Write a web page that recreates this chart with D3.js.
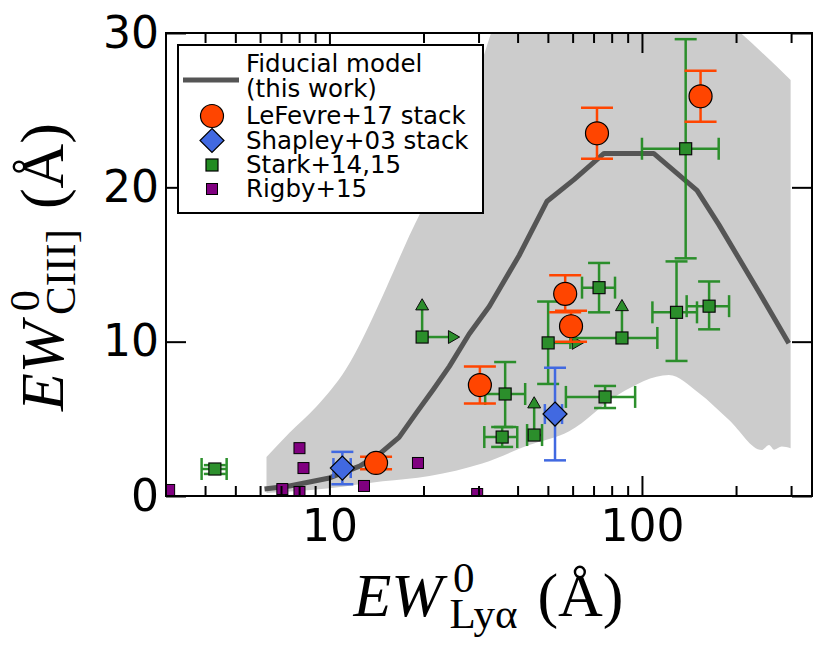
<!DOCTYPE html>
<html>
<head>
<meta charset="utf-8">
<style>
body { margin: 0; background: #fff; }
.tick text { font-family: "DejaVu Sans", sans-serif; font-size: 44px; fill: #000; }
.tick line { stroke: #000; stroke-width: 2; }
.leg { font-family: "DejaVu Sans", sans-serif; font-size: 24.5px; fill: #000; }
.lab { font-family: "Liberation Serif", "Times New Roman", serif; fill: #000; }
</style>
<script src="https://d3js.org/d3.v7.min.js"></script>
</head>
<body>
<svg id="fig" width="830" height="664"></svg>
<script>
// fiducial model curve
var modelX = [6.2, 7.45, 10, 12.5, 14.5, 16.7, 19.0, 21.5, 24.2, 28, 32.5, 40.5, 49.7, 60.6, 75.6, 109, 150, 176, 237, 295];
var modelY = [0.45, 0.65, 1.17, 1.94, 2.75, 3.8, 5.4, 6.9, 8.4, 10.5, 12.3, 15.6, 19.1, 20.5, 22.2, 22.2, 19.8, 17.6, 13.2, 9.9];

// shaded range around the model
var bandHiX = [6.29, 7.45, 9.09, 11.3, 14.8, 16.4, 18.0, 19.8, 23.3, 27.0, 30.1, 32.9, 40, 100, 207, 299];
var bandHiY = [2.53, 4.1, 5.8, 8.23, 12.96, 15.0, 16.85, 18.6, 22.0, 25.0, 27.6, 30.0, 35, 35, 30.0, 26.96];
var bandLoX = [6.29, 10, 14.8, 20.9, 30.8, 43.5, 58.5, 84.4, 122, 152, 190, 242, 255, 265, 280, 299];
var bandLoY = [0.19, 0.5, 0.95, 1.3, 2.1, 3.3, 4.2, 6.6, 7.84, 6.68, 4.93, 2.98, 3.3, 3.0, 3.2, 3.1];

// LeFevre+17 stacks
var lfX = [14.1, 30.3, 56.8, 59.3, 71.8, 154];
var lfY = [2.14, 7.19, 13.1, 11.0, 23.5, 25.9];
var lfYerr = [0.4, 1.2, 1.2, 1.0, 1.65, 1.65];

// Shapley+03 stacks
var shX = [11.0, 52.7];
var shY = [1.81, 5.31];
var shXlo = [10.3, 48.9];
var shXhi = [11.7, 55.5];
var shYerr = [1.05, 3.0];

// Stark+14,15 (null = no bar; upTo / rightTo = limit arrows)
var stX     = [4.30, 35.7, 45.2, 36.5, 50.1, 86.3, 72.9, 129, 164, 76.2, 138, 19.8];
var stY     = [1.75, 3.82, 3.95, 6.61, 9.92, 10.24, 13.5, 11.9, 12.3, 6.42, 22.5, 10.3];
var stXlo   = [3.90, 31.3, 42.9, 31.5, null, 59, 64.3, 108, 139, 57.1, 100, null];
var stXhi   = [4.69, 39.9, 47.9, 42.3, null, 112, 82.0, 150, 190, 95.1, 176, null];
var stYlo   = [1.43, 3.18, null, 4.47, 7.26, null, 11.9, 8.75, 10.8, 5.70, 15.4, null];
var stYhi   = [2.00, 4.47, null, 8.68, 12.6, null, 15.1, 15.2, 13.9, 7.13, 29.6, null];
var stUpTo    = [null, null, 5.95, null, null, 12.25, null, null, null, null, null, 12.3];
var stRightTo = [null, null, null, null, 61.5, null, null, null, null, null, null, 24.7];

// Rigby+15
var rgX = [3.07, 7.07, 8.02, 8.02, 8.26, 12.9, 19.2, 29.7];
var rgY = [0.39, 0.45, 0.26, 3.1, 1.81, 0.65, 2.14, 0.13];

var xMajor = [10, 100];
var xMinor = [4, 5, 6, 7, 8, 9, 20, 30, 40, 50, 60, 70, 80, 90, 200, 300];
var yMajor = [0, 10, 20, 30];

var legendLabels = ["LeFevre+17 stack", "Shapley+03 stack", "Stark+14,15", "Rigby+15"];

var ORANGE = "#ff4500", BLUE = "#4169e1", GREEN = "#228b22", PURPLE = "#800080";

var svg = d3.select("#fig");
var L = 166, R = 812, T = 33, B = 496;
var x = d3.scaleLog().domain([3, 350]).range([L, R]);
var y = d3.scaleLinear().domain([0, 30]).range([B, T]);

svg.append("defs").append("clipPath").attr("id", "plotclip")
    .append("rect").attr("x", L).attr("y", T).attr("width", R - L).attr("height", B - T);

var plot = svg.append("g").attr("clip-path", "url(#plotclip)");

// band: smooth upper edge, then lower edge walked back
var smooth = d3.line().curve(d3.curveMonotoneX)
    .x(function(d) { return x(d[0]); }).y(function(d) { return y(d[1]); });
var hiPts = bandHiX.map(function(v, i) { return [v, bandHiY[i]]; });
var loPts = bandLoX.map(function(v, i) { return [v, bandLoY[i]]; }).reverse();
plot.append("path")
    .attr("d", smooth(hiPts) + "L" + smooth(loPts).slice(1) + "Z")
    .attr("fill", "#cccccc");

// model line
plot.append("path")
    .attr("d", d3.line()
        .x(function(d) { return x(d); }).y(function(d, i) { return y(modelY[i]); })(modelX))
    .attr("fill", "none").attr("stroke", "#555").attr("stroke-width", 5)
    .attr("stroke-linejoin", "round");

function seg(g, x1, y1, x2, y2, color, lw) {
    g.append("line").attr("x1", x1).attr("y1", y1).attr("x2", x2).attr("y2", y2)
        .attr("stroke", color).attr("stroke-width", lw);
}
function xbar(g, xlo, xhi, yv, cap, color) {
    seg(g, x(xlo), y(yv), x(xhi), y(yv), color, 2.5);
    seg(g, x(xlo), y(yv) - cap, x(xlo), y(yv) + cap, color, 2.5);
    seg(g, x(xhi), y(yv) - cap, x(xhi), y(yv) + cap, color, 2.5);
}
function ybar(g, xv, ylo, yhi, cap, color) {
    seg(g, x(xv), y(ylo), x(xv), y(yhi), color, 2.5);
    seg(g, x(xv) - cap, y(ylo), x(xv) + cap, y(ylo), color, 2.5);
    seg(g, x(xv) - cap, y(yhi), x(xv) + cap, y(yhi), color, 2.5);
}
var tri = d3.symbol().type(d3.symbolTriangle).size(72);

// Rigby
plot.append("g").selectAll("rect").data(rgX).join("rect")
    .attr("x", function(d) { return x(d) - 5.5; })
    .attr("y", function(d, i) { return y(rgY[i]) - 5.5; })
    .attr("width", 11).attr("height", 11)
    .attr("fill", PURPLE).attr("stroke", "#000").attr("stroke-width", 1);

// Stark
var gs = plot.append("g").attr("opacity", 0.95);
stX.forEach(function(xv, i) {
    var yv = stY[i];
    if (stXlo[i] != null) xbar(gs, stXlo[i], stXhi[i], yv, 11, GREEN);
    if (stYlo[i] != null) ybar(gs, xv, stYlo[i], stYhi[i], 11, GREEN);
    if (stUpTo[i] != null) {
        seg(gs, x(xv), y(yv), x(xv), y(stUpTo[i]), GREEN, 2.5);
        gs.append("path").attr("d", tri)
            .attr("transform", "translate(" + x(xv) + "," + y(stUpTo[i]) + ")")
            .attr("fill", GREEN).attr("stroke", "#000").attr("stroke-width", 1);
    }
    if (stRightTo[i] != null) {
        seg(gs, x(xv), y(yv), x(stRightTo[i]), y(yv), GREEN, 2.5);
        gs.append("path").attr("d", tri)
            .attr("transform", "translate(" + x(stRightTo[i]) + "," + y(yv) + ") rotate(90)")
            .attr("fill", GREEN).attr("stroke", "#000").attr("stroke-width", 1);
    }
    gs.append("rect").attr("x", x(xv) - 6).attr("y", y(yv) - 6)
        .attr("width", 12).attr("height", 12)
        .attr("fill", GREEN).attr("stroke", "#000").attr("stroke-width", 1.2);
});

// Shapley
var diamond = function(r) { return "M0," + (-r) + "L" + r + ",0L0," + r + "L" + (-r) + ",0Z"; };
var gb = plot.append("g");
shX.forEach(function(xv, i) {
    xbar(gb, shXlo[i], shXhi[i], shY[i], 10, BLUE);
    ybar(gb, xv, shY[i] - shYerr[i], shY[i] + shYerr[i], 11, BLUE);
    gb.append("path").attr("d", diamond(12))
        .attr("transform", "translate(" + x(xv) + "," + y(shY[i]) + ")")
        .attr("fill", BLUE).attr("stroke", "#000").attr("stroke-width", 1.2);
});

// LeFevre
var go = plot.append("g");
lfX.forEach(function(xv, i) {
    ybar(go, xv, lfY[i] - lfYerr[i], lfY[i] + lfYerr[i], 16, ORANGE);
    go.append("circle").attr("cx", x(xv)).attr("cy", y(lfY[i])).attr("r", 11.5)
        .attr("fill", ORANGE).attr("stroke", "#000").attr("stroke-width", 1.2);
});

// axes, ticks inside on all four sides
function noDomain(g) { g.select(".domain").remove(); }
svg.append("g").attr("transform", "translate(0," + B + ")")
    .call(d3.axisBottom(x).tickValues(xMajor).tickFormat(d3.format("d")).tickSizeInner(-20).tickSizeOuter(0).tickPadding(14))
    .call(noDomain);
svg.append("g").attr("transform", "translate(0," + B + ")")
    .call(d3.axisBottom(x).tickValues(xMinor).tickFormat("").tickSizeInner(-10).tickSizeOuter(0))
    .call(noDomain);
svg.append("g").attr("transform", "translate(0," + T + ")")
    .call(d3.axisTop(x).tickValues(xMajor).tickFormat("").tickSizeInner(-20).tickSizeOuter(0))
    .call(noDomain);
svg.append("g").attr("transform", "translate(0," + T + ")")
    .call(d3.axisTop(x).tickValues(xMinor).tickFormat("").tickSizeInner(-10).tickSizeOuter(0))
    .call(noDomain);
svg.append("g").attr("transform", "translate(" + L + ",0)")
    .call(d3.axisLeft(y).tickValues(yMajor).tickFormat(d3.format("d")).tickSizeInner(-20).tickSizeOuter(0).tickPadding(7))
    .call(noDomain);
svg.append("g").attr("transform", "translate(" + R + ",0)")
    .call(d3.axisRight(y).tickValues(yMajor).tickFormat("").tickSizeInner(-20).tickSizeOuter(0))
    .call(noDomain);
svg.append("rect").attr("x", L).attr("y", T).attr("width", R - L).attr("height", B - T)
    .attr("fill", "none").attr("stroke", "#000").attr("stroke-width", 2);

// axis labels: EW^0_sub (Å)
function mathLabel(g, sub) {
    var t = g.append("text").attr("class", "lab").attr("x", 0).attr("y", 0);
    t.append("tspan").attr("font-style", "italic").attr("font-size", 62).text("EW");
    t.append("tspan").attr("font-size", 43).attr("dx", 10).attr("dy", -24).text("0");
    t.append("tspan").attr("font-size", 43).attr("dx", -25).attr("dy", 36).text(sub);
    t.append("tspan").attr("font-size", 62).attr("dx", 20).attr("dy", -12).text("(Å)");
    var w = t.node().getBBox().width;
    t.attr("x", -w / 2);
    return t;
}
var xl = svg.append("g").attr("transform", "translate(" + ((L + R) / 2) + ",616)");
mathLabel(xl, "Lyα");
var yl = svg.append("g").attr("transform", "translate(63," + ((T + B) / 2 + 2) + ") rotate(-90)");
mathLabel(yl, "CIII]");

// legend
var lg = svg.append("g");
lg.append("rect").attr("x", 178).attr("y", 45).attr("width", 305).attr("height", 168)
    .attr("fill", "#fff").attr("stroke", "#000").attr("stroke-width", 2);
lg.append("line").attr("x1", 183).attr("x2", 239).attr("y1", 80).attr("y2", 80)
    .attr("stroke", "#555").attr("stroke-width", 5);
lg.append("text").attr("class", "leg").attr("x", 246).attr("y", 72).text("Fiducial model");
lg.append("text").attr("class", "leg").attr("x", 246).attr("y", 97).text("(this work)");
var legY = [124, 148.5, 173, 197];
legendLabels.forEach(function(s, i) {
    lg.append("text").attr("class", "leg").attr("x", 246).attr("y", legY[i]).text(s);
});
lg.append("circle").attr("cx", 212).attr("cy", legY[0] - 8).attr("r", 11.5)
    .attr("fill", ORANGE).attr("stroke", "#000").attr("stroke-width", 1.2);
lg.append("path").attr("d", diamond(12)).attr("transform", "translate(212," + (legY[1] - 8) + ")")
    .attr("fill", BLUE).attr("stroke", "#000").attr("stroke-width", 1.2);
lg.append("rect").attr("x", 206).attr("y", legY[2] - 14).attr("width", 12).attr("height", 12)
    .attr("fill", GREEN).attr("stroke", "#000").attr("stroke-width", 1.2);
lg.append("rect").attr("x", 206.5).attr("y", legY[3] - 13.5).attr("width", 11).attr("height", 11)
    .attr("fill", PURPLE).attr("stroke", "#000").attr("stroke-width", 1);
</script>
</body>
</html>
